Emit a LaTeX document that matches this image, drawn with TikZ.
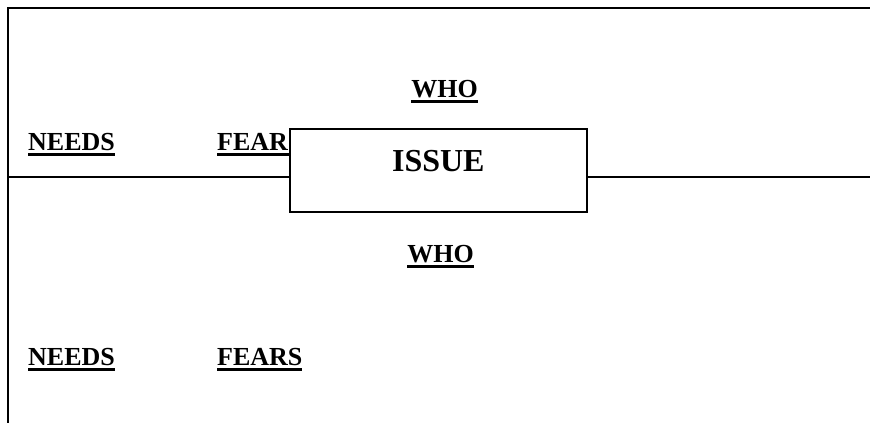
\documentclass[tikz,border=0pt]{standalone}
\usepackage{fontspec}
\setmainfont{Liberation Serif}
\usepackage{tikz}

\newcommand{\ulword}[1]{\leavevmode\setbox0\hbox{#1}\rlap{\rule[-6pt]{\wd0}{2.7pt}}\box0}

\tikzset{
  word/.style={font=\fontsize{26}{28}\selectfont\bfseries, inner sep=0pt},
  framerule/.style={line width=2pt},
  issuebox/.style={draw, fill=white, line width=1.6pt, minimum width=297pt,
    minimum height=83pt, text height=22pt, text depth=20pt,
    font=\fontsize{32}{34}\selectfont\bfseries},
}

\begin{document}
\begin{tikzpicture}[x=1pt, y=-1pt]
        \useasboundingbox (0, 0) rectangle (870, 423);

        % frame
        \coordinate (topL) at (8, 8);
        \coordinate (topR) at (870, 8);
        \coordinate (botL) at (8, 423);
        \coordinate (midL) at (8, 177);
        \coordinate (midR) at (870, 177);
        \draw[framerule] (topR) -- (topL) -- (botL);
        \draw[line width=1.5pt] (midL) -- (midR);

        % upper labels
        \node[word, anchor=base] (whoA) at (444.5, 97) {\ulword{WHO}};
        \node[word, anchor=base west] (needsA) at (28, 150) {\ulword{NEEDS}};
        \node[word, anchor=base west] (fearsA) at (217, 150) {\ulword{FEARS}};

        % the issue
        \node[issuebox, anchor=north west] (issue) at (289, 128) {ISSUE};

        % lower labels
        \node[word, anchor=base] (whoB) at (440.5, 262) {\ulword{WHO}};
        \node[word, anchor=base west] (needsB) at (28, 365) {\ulword{NEEDS}};
        \node[word, anchor=base west] (fearsB) at (217, 365) {\ulword{FEARS}};
      \end{tikzpicture}
\end{document}
